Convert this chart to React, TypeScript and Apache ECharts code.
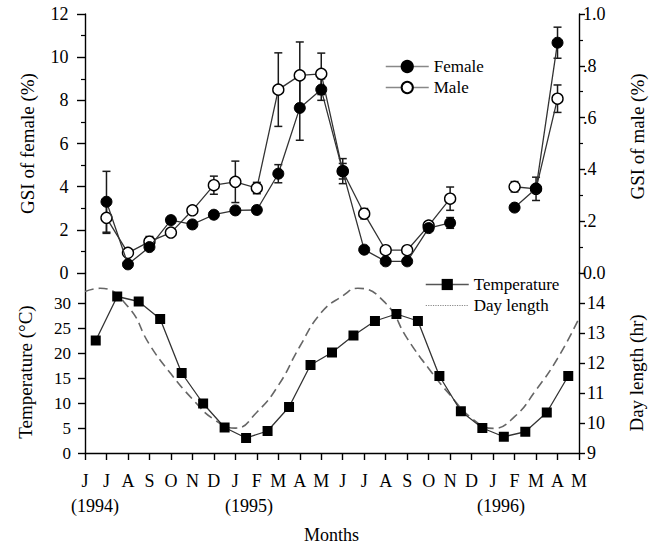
import React, { useEffect, useRef } from 'react';
import * as echarts from 'echarts';

// Month tick labels, June 1994 .. May 1996
const monthLabels = ['J', 'J', 'A', 'S', 'O', 'N', 'D', 'J', 'F', 'M', 'A', 'M', 'J', 'J', 'A', 'S', 'O', 'N', 'D', 'J', 'F', 'M', 'A', 'M'];
const yearLabels = ['(1994)', '(1995)', '(1996)'];

// GSI sampling positions (month index, 0 = June 1994)
const gsiMonthIndex = [1, 2, 3, 4, 5, 6, 7, 8, 9, 10, 11, 12, 13, 14, 15, 16, 17, 18, 19, 20, 21, 22];
const gsiFemale = [3.30, 0.40, 1.20, 2.45, 2.25, 2.70, 2.90, 2.92, 4.60, 7.65, 8.50, 4.72, 1.08, 0.54, 0.54, 2.08, 2.32, null, null, 3.03, 3.91, 10.67];
const gsiFemaleErr = [1.41, 0, 0, 0, 0, 0, 0, 0, 0.42, 1.50, 0.50, 0.58, 0, 0, 0, 0.15, 0.25, null, null, 0, 0, 0.72];
const gsiMale = [0.213, 0.078, 0.121, 0.156, 0.242, 0.339, 0.352, 0.328, 0.708, 0.763, 0.769, 0.393, 0.229, 0.088, 0.088, 0.183, 0.287, null, null, 0.333, 0.325, 0.673];
const gsiMaleErr = [0.06, 0, 0.02, 0.012, 0.01, 0.035, 0.08, 0.022, 0.142, 0.129, 0.08, 0.03, 0.02, 0, 0, 0.015, 0.045, null, null, 0.02, 0.045, 0.053];

// Temperature (mid-month)
const tempMonthIndex = [0.5, 1.5, 2.5, 3.5, 4.5, 5.5, 6.5, 7.5, 8.5, 9.5, 10.5, 11.5, 12.5, 13.5, 14.5, 15.5, 16.5, 17.5, 18.5, 19.5, 20.5, 21.5, 22.5];
const temperature = [22.5, 31.3, 30.3, 26.8, 16.0, 9.9, 5.1, 3.0, 4.4, 9.2, 17.6, 20.1, 23.5, 26.4, 27.8, 26.4, 15.4, 8.35, 5.0, 3.25, 4.25, 8.1, 15.4];

// Day length (at month ticks)
const dayMonthIndex = [0, 0.7, 2, 3, 4, 5, 6, 7, 8, 9, 10, 11, 12, 12.7, 14, 15, 16, 17, 18, 19, 20, 21, 22, 23];
const dayLength = [14.38, 14.49, 13.88, 12.62, 11.64, 10.80, 10.12, 9.83, 10.36, 11.25, 12.55, 13.68, 14.24, 14.49, 13.99, 12.82, 11.82, 10.93, 10.16, 9.82, 10.21, 11.10, 12.15, 13.49];

const tempTicks = [0, 5, 10, 15, 20, 25, 30];
const dayTicks = [9, 10, 11, 12, 13, 14];

const FONT = 'Liberation Serif';

function pairs(xs: number[], ys: (number | null)[]) {
  return xs.map((x, i) => [x, ys[i] === null ? '-' : ys[i]]);
}
function errData(xs: number[], ys: (number | null)[], es: (number | null)[]) {
  const out: number[][] = [];
  xs.forEach((x, i) => {
    const y = ys[i];
    const e = es[i];
    if (y !== null && e) out.push([x, y, e]);
  });
  return out;
}

const errorBarRender = (params: any, api: any) => {
  const x = api.value(0);
  const y = api.value(1);
  const e = api.value(2);
  const top = api.coord([x, y + e]);
  const bot = api.coord([x, y - e]);
  const hw = 4;
  const style = { stroke: '#1a1a1a', lineWidth: 1.5, fill: 'none' };
  return {
    type: 'group',
    children: [
      { type: 'line', shape: { x1: top[0], y1: top[1], x2: bot[0], y2: bot[1] }, style },
      { type: 'line', shape: { x1: top[0] - hw, y1: top[1], x2: top[0] + hw, y2: top[1] }, style },
      { type: 'line', shape: { x1: bot[0] - hw, y1: bot[1], x2: bot[0] + hw, y2: bot[1] }, style },
    ],
  };
};

const axisLineStyle = { color: '#000', width: 1.4 };

export default function App() {
  const ref = useRef<HTMLDivElement>(null);
  useEffect(() => {
    if (!ref.current) return;
    const chart = echarts.init(ref.current, undefined, { renderer: 'svg' });
    const option: any = {
      animation: false,
      backgroundColor: '#fff',
      textStyle: { fontFamily: FONT, color: '#000' },
      grid: [
        { left: 85, right: 82, top: 14, height: 259 },
        { left: 85, right: 82, top: 273, height: 180 },
      ],
      xAxis: [
        { type: 'value', gridIndex: 0, min: 0, max: 23, show: false },
        {
          type: 'value', gridIndex: 1, min: 0, max: 23, interval: 1,
          axisLine: { show: true, lineStyle: axisLineStyle },
          axisTick: { show: true, inside: false, length: 7, lineStyle: axisLineStyle },
          axisLabel: { show: true, margin: 19, fontSize: 18, fontFamily: FONT, color: '#000', formatter: (v: number) => monthLabels[v] ?? '', showMinLabel: true, showMaxLabel: true },
          splitLine: { show: false },
        },
      ],
      yAxis: [
        {
          type: 'value', gridIndex: 0, position: 'left', offset: 4.5, min: 0, max: 12, interval: 2,
          name: 'GSI of female (%)', nameLocation: 'middle', nameGap: 44, nameRotate: 90,
          nameTextStyle: { fontSize: 19, fontFamily: FONT, color: '#000' },
          axisLine: { show: true, lineStyle: axisLineStyle },
          axisTick: { show: true, length: 8, lineStyle: axisLineStyle },
          minorTick: { show: true, splitNumber: 2, length: 4, lineStyle: { color: '#000', width: 1.2 } },
          axisLabel: { margin: 12, fontSize: 18, fontFamily: FONT, color: '#000' },
          splitLine: { show: false },
        },
        {
          type: 'value', gridIndex: 0, position: 'right', min: 0, max: 1, interval: 0.2,
          name: 'GSI of male (%)', nameLocation: 'middle', nameGap: 49, nameRotate: 90,
          nameTextStyle: { fontSize: 19, fontFamily: FONT, color: '#000', padding: [0, 0, 0, 14] },
          axisLine: { show: true, lineStyle: axisLineStyle },
          axisTick: { show: true, length: 6, lineStyle: axisLineStyle },
          minorTick: { show: true, splitNumber: 2, length: 4, lineStyle: { color: '#000', width: 1.2 } },
          axisLabel: {
            margin: 4, fontSize: 18, fontFamily: FONT, color: '#000',
            formatter: (v: number) => (v === 0 ? '0.0' : v >= 0.999 ? '1.0' : '.' + Math.round(v * 10)),
          },
          splitLine: { show: false },
        },
        {
          type: 'value', gridIndex: 1, position: 'left', min: 0, max: 36, interval: 5,
          name: 'Temperature (°C)', nameLocation: 'middle', nameGap: 50, nameRotate: 90,
          nameTextStyle: { fontSize: 19, fontFamily: FONT, color: '#000', padding: [0, 18, 0, 0] },
          axisLine: { show: true, lineStyle: axisLineStyle },
          axisTick: { show: true, length: 7, lineStyle: axisLineStyle, customValues: tempTicks },
          axisLabel: {
            margin: 14, fontSize: 17, fontFamily: FONT, color: '#000', customValues: tempTicks,
            formatter: (v: number) => (v <= 30 ? String(v) : ''),
          },
          splitLine: { show: false },
        },
        {
          type: 'value', gridIndex: 1, position: 'right', min: 9, max: 15, interval: 1,
          name: 'Day length (hr)', nameLocation: 'middle', nameGap: 48, nameRotate: 90,
          nameTextStyle: { fontSize: 19, fontFamily: FONT, color: '#000', padding: [0, 20, 0, 0] },
          axisLine: { show: true, lineStyle: axisLineStyle },
          axisTick: { show: true, length: 6, lineStyle: axisLineStyle, customValues: dayTicks },
          axisLabel: {
            margin: 8, fontSize: 18, fontFamily: FONT, color: '#000', customValues: dayTicks,
            formatter: (v: number) => (v <= 14 ? String(v) : ''),
          },
          splitLine: { show: false },
        },
      ],
      legend: [
        {
          orient: 'vertical', left: 380, top: 53, itemWidth: 43, itemHeight: 14, itemGap: 4,
          textStyle: { fontSize: 17, fontFamily: FONT, color: '#000' },
          data: [
            { name: 'Female', lineStyle: { color: '#888', width: 1.5 } },
            { name: 'Male', lineStyle: { color: '#888', width: 1.5 } },
          ],
        },
        {
          orient: 'vertical', left: 420, top: 271, itemWidth: 43, itemHeight: 14, itemGap: 4,
          textStyle: { fontSize: 17, fontFamily: FONT, color: '#000' },
          data: [
            { name: 'Temperature', lineStyle: { color: '#555', width: 1.5 } },
            { name: 'Day length', lineStyle: { color: '#888', width: 1.2, type: 'dotted' }, itemStyle: { opacity: 0 } },
          ],
        },
      ],
      series: [
        {
          type: 'custom', name: 'Male err', xAxisIndex: 0, yAxisIndex: 1, z: 1,
          renderItem: errorBarRender, encode: { x: 0, y: 1 },
          data: errData(gsiMonthIndex, gsiMale, gsiMaleErr), silent: true,
        },
        {
          type: 'custom', name: 'Female err', xAxisIndex: 0, yAxisIndex: 0, z: 1,
          renderItem: errorBarRender, encode: { x: 0, y: 1 },
          data: errData(gsiMonthIndex, gsiFemale, gsiFemaleErr), silent: true,
        },
        {
          type: 'line', name: 'Male', xAxisIndex: 0, yAxisIndex: 1, z: 3,
          data: pairs(gsiMonthIndex, gsiMale), connectNulls: false,
          symbol: 'circle', symbolSize: 11, showSymbol: true,
          lineStyle: { color: '#333', width: 1.3 },
          itemStyle: { color: '#fff', borderColor: '#000', borderWidth: 1.4 },
        },
        {
          type: 'line', name: 'Female', xAxisIndex: 0, yAxisIndex: 0, z: 4,
          data: pairs(gsiMonthIndex, gsiFemale), connectNulls: false,
          symbol: 'circle', symbolSize: 11, showSymbol: true,
          lineStyle: { color: '#333', width: 1.3 },
          itemStyle: { color: '#000', borderColor: '#000', borderWidth: 1 },
        },
        {
          type: 'line', name: 'Day length', xAxisIndex: 1, yAxisIndex: 3, z: 2,
          data: pairs(dayMonthIndex, dayLength), smooth: 0.5, symbol: 'none',
          lineStyle: { color: '#666', width: 1.6, type: [9, 5] },
          itemStyle: { color: '#666' },
        },
        {
          type: 'line', name: 'Temperature', xAxisIndex: 1, yAxisIndex: 2, z: 3,
          data: pairs(tempMonthIndex, temperature),
          symbol: 'rect', symbolSize: 10, showSymbol: true,
          lineStyle: { color: '#333', width: 1.3 },
          itemStyle: { color: '#000' },
        },
      ],
      graphic: [
        { type: 'text', left: 71, top: 497, style: { text: yearLabels[0], font: `18px "${FONT}"`, fill: '#000' } },
        { type: 'text', left: 225, top: 497, style: { text: yearLabels[1], font: `18px "${FONT}"`, fill: '#000' } },
        { type: 'text', left: 477, top: 497, style: { text: yearLabels[2], font: `18px "${FONT}"`, fill: '#000' } },
        { type: 'text', left: 304, top: 526, style: { text: 'Months', font: `18px "${FONT}"`, fill: '#000' } },
      ],
    };
    chart.setOption(option);
    return () => chart.dispose();
  }, []);
  return <div ref={ref} style={{ width: 661, height: 547, position: 'absolute', left: 0, top: 0, background: '#fff' }} />;
}
